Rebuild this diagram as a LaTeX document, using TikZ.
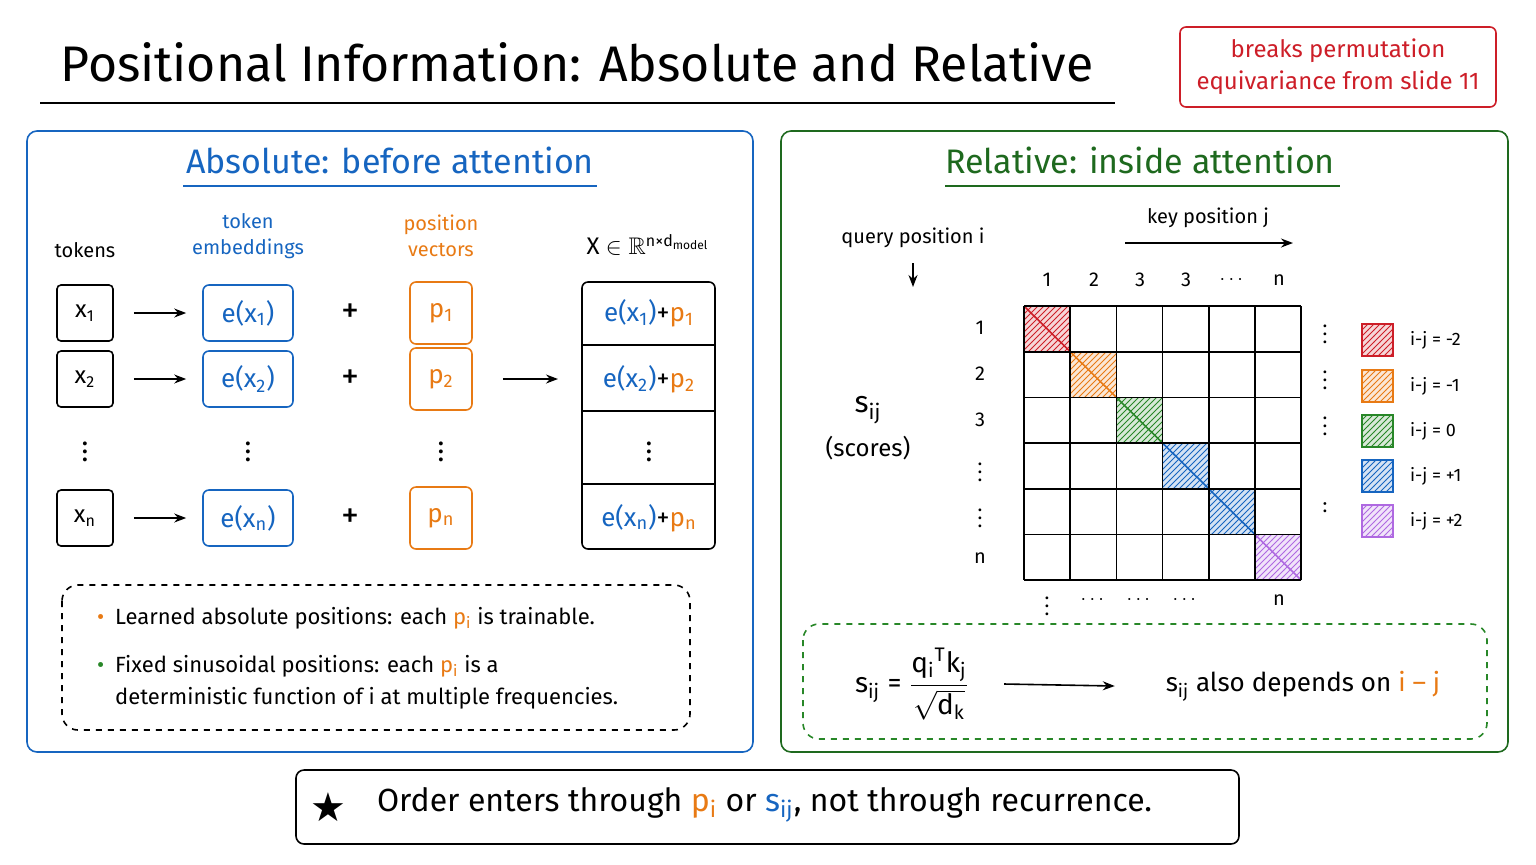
\documentclass[tikz,border=0pt]{standalone}
\usepackage{amsmath,amssymb}
\usepackage{fontspec}
\setmainfont{Fira Sans}
\usetikzlibrary{patterns,arrows.meta}
\definecolor{absblue}{RGB}{22,101,192}
\definecolor{posorange}{RGB}{232,122,20}
\definecolor{relgreen}{RGB}{40,135,40}
\definecolor{panelgreen}{RGB}{30,105,30}
\definecolor{noteRed}{RGB}{205,30,40}
\definecolor{diagpurple}{RGB}{175,105,225}
\newcommand{\sub}[1]{\textsubscript{#1}}
\tikzset{
  tok/.style={draw, thick, rounded corners=2pt, minimum width=28pt, minimum height=28pt, font=\fontsize{12}{14}\selectfont},
  emb/.style={draw=absblue, thick, rounded corners=3pt, minimum width=45pt, minimum height=28pt, text=absblue, font=\fontsize{13}{15}\selectfont},
  posvec/.style={draw=posorange, thick, rounded corners=3pt, minimum width=31pt, minimum height=31pt, text=posorange, font=\fontsize{13}{15}\selectfont},
  lbl/.style={font=\fontsize{10}{13}\selectfont, align=center},
  arr/.style={-{Stealth[length=6pt]}, thick},
  cellfill/.style={pattern=north east lines, pattern color=#1},
}
\begin{document}
\begin{tikzpicture}[x=0.5pt, y=-0.5pt]
\useasboundingbox (0,0) rectangle (1536,864);

% Title
\node[font=\fontsize{25}{30}\selectfont] (title) at (577,62) {Positional Information: Absolute and Relative};
\draw[thick] (40,103) -- (1115,103);
\node[draw=noteRed, thick, rounded corners=3pt, minimum width=158pt, minimum height=40pt, text=noteRed, align=center, font=\fontsize{12}{16}\selectfont] (note) at (1338,67) {breaks permutation\\equivariance from slide 11};

% Left panel
\draw[absblue, thick, rounded corners=5pt] (27,131) rectangle (753,752);
\node[text=absblue, font=\fontsize{17}{20}\selectfont] (abstitle) at (390,160) {Absolute: before attention};
\draw[absblue, thick] (183,186) -- (597,186);

\node[lbl] (htok) at (85,250) {tokens};
\node[lbl, text=absblue] (hemb) at (248,236) {token\\embeddings};
\node[lbl, text=posorange] (hpos) at (441,236) {position\\vectors};
\node[lbl, font=\fontsize{12}{14}\selectfont] (hout) at (648,245) {X $\in \mathbb{R}$\textsuperscript{n×d\sub{model}}};

% rows
\foreach \y/\s in {313/1, 379/2, 518/n} {
  \node[tok] (x\s) at (85,\y) {x\sub{\s}};
  \node[emb] (e\s) at (248,\y) {e(x\sub{\s})};
  \node[font=\fontsize{18}{20}\selectfont] (plus\s) at (350,\y) {+};
  \node[posvec] (p\s) at (441,\y) {p\sub{\s}};
  \draw[arr] ([xshift=10pt]x\s.east) -- ([xshift=-8pt]e\s.west);
}
\foreach \x in {85,248,441,649} \node[font=\fontsize{14}{16}\selectfont] at (\x,446) {$\vdots$};

% output column
\draw[thick, rounded corners=3pt] (582,282) rectangle (715,549);
\foreach \y in {345,411,484} \draw[thick] (582,\y) -- (715,\y);
\foreach \y/\s in {313/1, 379/2, 518/n}
  \node[font=\fontsize{13}{15}\selectfont] (o\s) at (649,\y) {\textcolor{absblue}{e(x\sub{\s})}+\textcolor{posorange}{p\sub{\s}}};
\coordinate (oin) at (582,379);
\draw[arr] ([xshift=15pt]p2.east) -- ([xshift=-12pt]oin);

% notes
\draw[thick, dashed, rounded corners=8pt] (62,585) rectangle (690,730);
\node[anchor=west, font=\fontsize{11}{16}\selectfont] (b1) at (90,618) {\textcolor{posorange}{\textbullet}\enspace Learned absolute positions: each \textcolor{posorange}{p\sub{i}} is trainable.};
\node[anchor=north west, align=left, font=\fontsize{11}{16}\selectfont] (b2) at (90,648) {\textcolor{relgreen}{\textbullet}\enspace Fixed sinusoidal positions: each \textcolor{posorange}{p\sub{i}} is a\\\phantom{\textbullet}\enspace deterministic function of i at multiple frequencies.};

% Right panel
\draw[panelgreen, thick, rounded corners=5pt] (781,131) rectangle (1508,752);
\node[text=panelgreen, font=\fontsize{17}{20}\selectfont] (reltitle) at (1140,160) {Relative: inside attention};
\draw[panelgreen, thick] (945,186) -- (1340,186);

\node[lbl] (keyj) at (1208,218) {key position j};
\coordinate (ka) at (1125,243); \coordinate (kb) at (1293,243);
\draw[arr] (ka) -- (kb);
\node[lbl] (queryi) at (913,238) {query position i};
\coordinate (qb) at (913,287);
\draw[arr] ([yshift=-4pt]queryi.south) -- (qb);
\node[font=\fontsize{15}{16}\selectfont] (sij) at (868,410) {s\sub{ij}};
\node[lbl, font=\fontsize{12}{14}\selectfont] (scores) at (868,448) {(scores)};

% diagonal cells
\foreach \i/\c in {0/noteRed, 1/posorange, 2/relgreen, 3/absblue, 4/absblue, 5/diagpurple} {
  \fill[\c!18] (1024+46.2*\i,306+45.7*\i) rectangle ++(46.2,45.7);
  \fill[cellfill=\c] (1024+46.2*\i,306+45.7*\i) rectangle ++(46.2,45.7);
  \draw[\c, thick] (1024+46.2*\i,306+45.7*\i) -- ++(46.2,45.7);
}
% grid
\foreach \k in {0,...,6} {
  \draw[thick] (1024+46.2*\k,306) -- (1024+46.2*\k,580);
  \draw[thick] (1024,306+45.7*\k) -- (1301,306+45.7*\k);
}
\foreach \x/\t in {1047/1, 1094/2, 1140/3, 1186/3, 1233/$\cdots$, 1279/n} \node[lbl] at (\x,280) {\t};
\foreach \y/\t in {328/1, 374/2, 420/3, 466/$\vdots$, 512/$\vdots$, 558/n} \node[lbl] at (980,\y) {\t};
\foreach \x/\t in {1047/$\vdots$, 1094/$\cdots$, 1140/$\cdots$, 1186/$\cdots$, 1279/n} \node[lbl] at (\x,600) {\t};
\foreach \y in {328,374,420} \node[lbl] at (1325,\y) {$\vdots$};
\node[lbl] at (1325,508) {:};

% legend
\foreach \y/\c/\t in {340/noteRed/-2, 386/posorange/-1, 431/relgreen/0, 476/absblue/+1, 521/diagpurple/+2} {
  \fill[\c!18] (1362,\y-16) rectangle (1393,\y+16);
  \filldraw[cellfill=\c, draw=\c, thick] (1362,\y-16) rectangle (1393,\y+16);
  \node[anchor=west, lbl, font=\fontsize{9}{11}\selectfont] at (1403,\y) {i-j = \t};
}

% formula
\draw[relgreen, thick, dashed, rounded corners=8pt] (803,624) rectangle (1487,739);
\node[font=\fontsize{14}{16}\selectfont] (formula) at (912,684) {s\sub{ij} = $\dfrac{\text{q\sub{i}\textsuperscript{T}k\sub{j}}}{\sqrt{\text{d\sub{k}}}}$};
\node[font=\fontsize{13}{15}\selectfont] (depends) at (1303,686) {s\sub{ij} also depends on \textcolor{posorange}{i -- j}};
\draw[arr] ([xshift=14pt]formula.east) -- ([xshift=-22pt]depends.west);

% bottom takeaway
\draw[thick, rounded corners=4pt] (296,770) rectangle (1239,844);
\node[font=\fontsize{20}{24}\selectfont] (star) at (328,807) {\fontspec{DejaVu Sans}★};
\node[anchor=west, font=\fontsize{16}{18}\selectfont] (takeaway) at (370,805) {Order enters through \textcolor{posorange}{p\sub{i}} or \textcolor{absblue}{s\sub{ij}}, not through recurrence.};
\end{tikzpicture}
\end{document}
